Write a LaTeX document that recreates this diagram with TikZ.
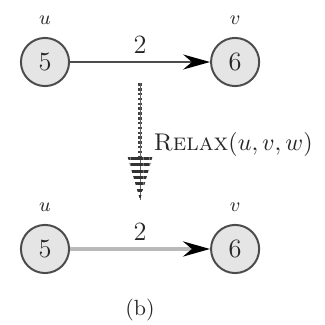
\documentclass[tikz,border=0pt]{standalone}
\usepackage{amsmath}
\usepackage{xcolor}
\usepackage{tikz}
\usetikzlibrary{arrows.meta, positioning, calc, patterns.meta}
\tikzstyle{vertex} = [circle, draw=black!70, line width=0.9pt, fill=gray!20, minimum size=0.77cm, inner sep=0pt, font=\large, text=black!85]
\tikzstyle{vname} = [inner sep=0pt, font=\small, text=black!85]
\tikzstyle{weight} = [inner sep=0pt, font=\large, text=black!85]
\tikzstyle{edge} = [draw=black!70, line width=0.7pt, -{Stealth[length=4.3mm, width=2.4mm, inset=1.4mm, color=black]}]
\tikzstyle{relaxed} = [draw=gray!55, line width=1.8pt, -{Stealth[length=4.3mm, width=2.4mm, inset=1.4mm, color=black]}]
\tikzstyle{relaxline} = [draw=black!75, line width=1.9pt, dash pattern=on 1.1pt off 1.1pt]

\begin{document}
\begin{tikzpicture}[node distance=2.24cm and 2.24cm]
        % Nodes
        \node (u1) [vertex] at (0,0) {5};
        \node (v1) [vertex, right=of u1] {6};
        \node (u2) [vertex, below=2.19cm of u1] {5};
        \node (v2) [vertex, right=of u2] {6};

        \useasboundingbox ($(u1)+(-0.72,0.992)$) rectangle +(5.2,-5.184);

        \node (lu1) [vname, above=0.2cm of u1, anchor=base] {$u$};
        \node (lv1) [vname, above=0.2cm of v1, anchor=base] {$v$};
        \node (lu2) [vname, above=0.2cm of u2, anchor=base] {$u$};
        \node (lv2) [vname, above=0.2cm of v2, anchor=base] {$v$};

        % Relax step between the two rows
        \coordinate (rtop) at ($(u1)!0.5!(v1)+(0,-0.34)$);
        \coordinate (rtip) at ($(u1)!0.5!(v1)+(0,-2.21)$);
        \coordinate (rhead) at ($(rtip)+(0,0.67)$);
        \node (relax) [anchor=base west, inner sep=0pt, font=\fontsize{11}{13}\selectfont, text=black!85] at ($(rtop)+(0.21,-1.07)$) {\textsc{Relax}$(u,v,w)$};
        \node (caption) [anchor=base, inner sep=0pt, text=black!85] at ($(u2)!0.5!(v2)+(0,-1.06)$) {(b)};

        % Arrows
        \draw [edge] (u1) -- node[weight, above=0.14cm, anchor=base] {2} (v1);
        \draw [relaxed] (u2) -- node[weight, above=0.14cm, anchor=base] {2} (v2);
        \draw [relaxline] (rtop) -- (rhead);
        \draw [black!60, line width=0.5pt] (rtop) -- (rtip);
        \fill [pattern={Lines[angle=0, distance=2.9pt, line width=1.4pt]}, pattern color=black!80]
            ($(rhead)+(-0.2,0.03)$) -- ($(rhead)+(0.2,0.03)$) -- (rtip) -- cycle;
    \end{tikzpicture}
\end{document}
